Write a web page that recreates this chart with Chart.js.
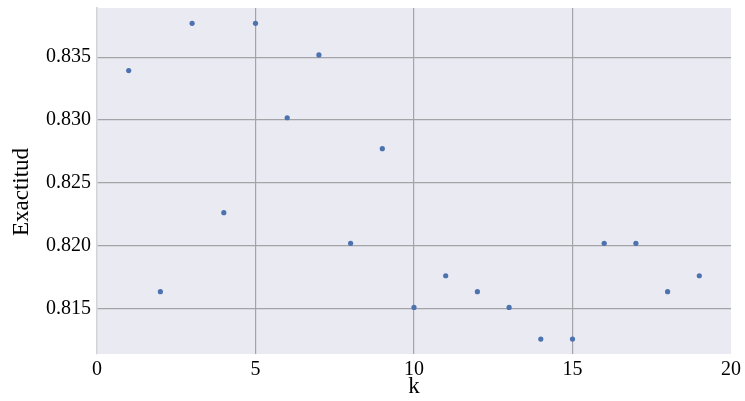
<!DOCTYPE html>
<html>
<head>
<meta charset="utf-8">
<script src="https://cdn.jsdelivr.net/npm/chart.js@4"></script>
<style>
  html, body { margin: 0; padding: 0; background: #ffffff; }
  #wrap { width: 745px; height: 401px; }
</style>
</head>
<body>
<div id="wrap"><canvas id="c" width="745" height="401"></canvas></div>
<script>
const kValues = [1, 2, 3, 4, 5, 6, 7, 8, 9, 10, 11, 12, 13, 14, 15, 16, 17, 18, 19];
const accuracy = [0.83394, 0.81633, 0.83770, 0.82262, 0.83770, 0.83018, 0.83518, 0.82018, 0.82772, 0.81508,
                  0.81760, 0.81633, 0.81508, 0.81256, 0.81256, 0.82018, 0.82018, 0.81633, 0.81760];
const xTicks = [0, 5, 10, 15, 20];
const yTicks = [0.815, 0.820, 0.825, 0.830, 0.835];
const xLabel = 'k';
const yLabel = 'Exactitud';

const points = kValues.map((k, i) => ({ x: k, y: accuracy[i] }));

const serif = '"Liberation Serif", "DejaVu Serif", serif';
const font = { family: serif, size: 20 };
const titleFont = { family: serif, size: 23 };

const bgPlugin = {
  id: 'bg',
  beforeDraw(chart) {
    const { ctx, chartArea: a } = chart;
    ctx.save();
    ctx.fillStyle = '#eaeaf2';
    ctx.fillRect(a.left, a.top, a.right - a.left, a.bottom - a.top);
    ctx.restore();
  },
  afterDraw(chart) {
    const { ctx, chartArea: a } = chart;
    ctx.save();
    ctx.translate(22, (a.top + a.bottom) / 2 + 11);
    ctx.rotate(-Math.PI / 2);
    ctx.font = titleFont.size + 'px ' + serif;
    ctx.fillStyle = '#000';
    ctx.textAlign = 'center';
    ctx.textBaseline = 'middle';
    ctx.fillText(yLabel, 0, 0);
    ctx.restore();
  }
};

new Chart(document.getElementById('c'), {
  type: 'scatter',
  data: {
    datasets: [{
      data: points,
      backgroundColor: '#4c72b0',
      borderColor: '#4c72b0',
      pointRadius: 2.6,
      pointBorderWidth: 0
    }]
  },
  options: {
    responsive: false,
    animation: false,
    layout: { padding: { top: 8, right: 14, left: 0, bottom: 0 } },
    plugins: { legend: { display: false }, tooltip: { enabled: false } },
    scales: {
      x: {
        type: 'linear',
        min: 0, max: 20,
        afterBuildTicks(s) { s.ticks = xTicks.map(v => ({ value: v })); },
        afterFit(s) { s.height = 47; },
        grid: {
          color: (c) => (c.tick && (c.tick.value === 0 || c.tick.value === 20)) ? 'rgba(0,0,0,0)' : '#a3a3a8',
          lineWidth: 1.2,
          drawTicks: false
        },
        border: { display: false },
        ticks: { font, color: '#000', padding: 4, maxRotation: 0 },
        title: { display: true, text: xLabel, font: titleFont, color: '#000', padding: { top: -10, bottom: 0 } }
      },
      y: {
        type: 'linear',
        min: 0.81137, max: 0.83892,
        afterBuildTicks(s) { s.ticks = yTicks.map(v => ({ value: v })); },
        afterFit(s) { s.width = 97; s.paddingTop = 0; s.paddingBottom = 0; },
        grid: { color: '#a3a3a8', lineWidth: 1.2, drawTicks: false },
        border: { display: true, color: '#d4d4d8', width: 1.5 },
        ticks: { font, color: '#000', padding: 6, callback: (v) => v.toFixed(3) },
        title: { display: false, text: yLabel }
      }
    }
  },
  plugins: [bgPlugin]
});
</script>
</body>
</html>
